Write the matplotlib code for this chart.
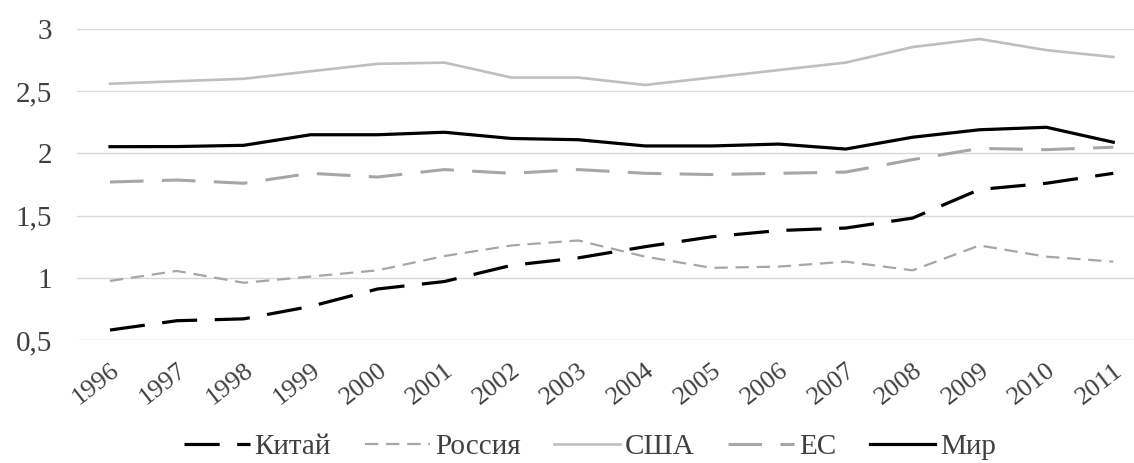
import numpy as np
import matplotlib
matplotlib.use('Agg')
import matplotlib.pyplot as plt
from matplotlib.ticker import FuncFormatter

plt.rcParams['font.family'] = ['Liberation Serif', 'DejaVu Serif']

years = [str(y) for y in range(1996, 2012)]
china = [0.58, 0.655, 0.67, 0.77, 0.91, 0.97, 1.10, 1.16, 1.25, 1.33, 1.38, 1.40, 1.48, 1.71, 1.76, 1.84]
russia = [0.975, 1.055, 0.96, 1.01, 1.06, 1.175, 1.26, 1.30, 1.17, 1.08, 1.09, 1.13, 1.06, 1.26, 1.17, 1.13]
usa = [2.56, 2.58, 2.60, 2.66, 2.72, 2.73, 2.61, 2.61, 2.55, 2.61, 2.67, 2.73, 2.855, 2.92, 2.83, 2.775]
eu = [1.77, 1.786, 1.76, 1.84, 1.81, 1.87, 1.84, 1.87, 1.84, 1.83, 1.84, 1.85, 1.95, 2.04, 2.03, 2.05]
world = [2.054, 2.055, 2.065, 2.15, 2.15, 2.17, 2.12, 2.11, 2.06, 2.06, 2.075, 2.035, 2.13, 2.19, 2.21, 2.09]

fig = plt.figure(figsize=(11.34, 4.63), dpi=100, facecolor='white')
ax = fig.add_axes([77/1134, 1 - 340/463, 1 - 77/1134, 311/463])

x = np.arange(len(years))
ax.plot(x, china, color='black', lw=2.3, dashes=(11, 5.5), label='Китай')
ax.plot(x, russia, color='#a6a6a6', lw=1.6, dashes=(6, 3.5), label='Россия')
ax.plot(x, usa, color='#bfbfbf', lw=1.9, label='США')
ax.plot(x, eu, color='#a6a6a6', lw=2.2, dashes=(11, 6), label='ЕС')
ax.plot(x, world, color='black', lw=2.3, label='Мир')

ax.set_ylim(0.5, 3)
ax.set_xlim(-0.493, 15.31)
ax.set_yticks([0.5, 1, 1.5, 2, 2.5, 3])
ax.yaxis.set_major_formatter(FuncFormatter(lambda v, p: ('%g' % v).replace('.', ',')))
ax.set_xticks(x)
ax.set_xticklabels(years, rotation=38, ha='right', rotation_mode='anchor')
ax.grid(axis='y', color='#d9d9d9', lw=1)
ax.set_axisbelow(True)
for s in ax.spines.values():
    s.set_visible(False)
ax.tick_params(axis='both', length=0, colors='#404040')
ax.tick_params(axis='y', pad=18, labelsize=21)
ax.tick_params(axis='x', pad=14, labelsize=19)

leg = fig.legend(loc='center', bbox_to_anchor=(590/1134, 1 - 447/463), ncol=5, frameon=False,
                 fontsize=21, handlelength=2.25, handletextpad=0.17, columnspacing=1.15)
for t in leg.get_texts():
    t.set_color('#404040')

fig.savefig('out.png', dpi=100, facecolor='white')
